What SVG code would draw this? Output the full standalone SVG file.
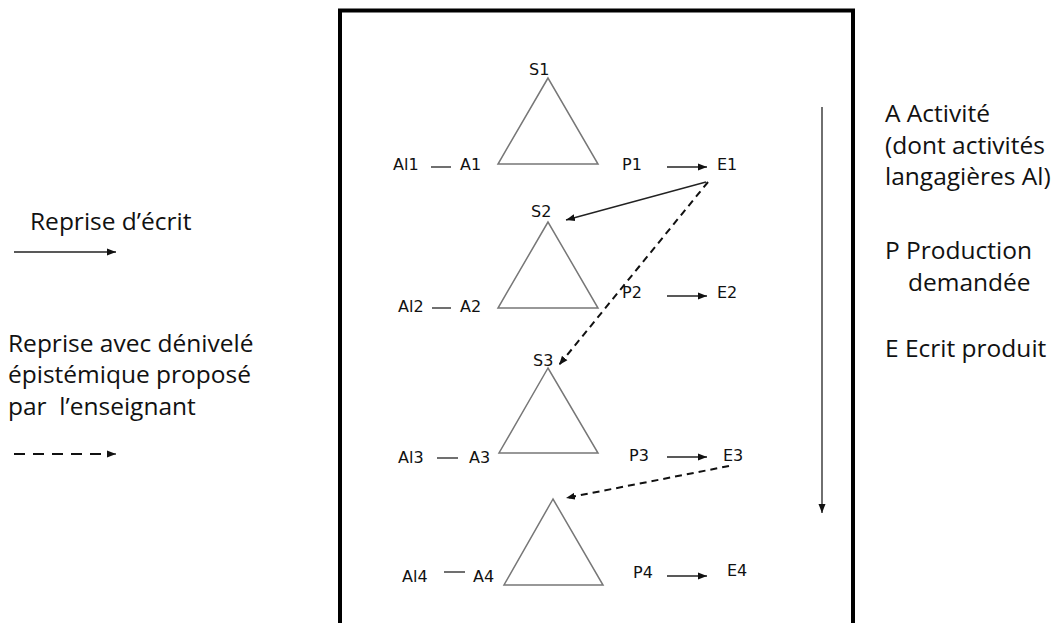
<svg xmlns="http://www.w3.org/2000/svg" width="1057" height="623" viewBox="0 0 1057 623">
<style>
.lbl{font-family:"DejaVu Sans",Verdana,sans-serif;font-size:16px;fill:#111}
.leg{font-family:"Open Sans","Noto Sans",sans-serif;font-size:24.5px;fill:#111}
.tri{fill:none;stroke:#777;stroke-width:1.5}
.ln{stroke:#222;stroke-width:1.3;fill:none}
.dash{stroke:#111;stroke-width:2;stroke-dasharray:7 5;fill:none}
.dashleg{stroke:#111;stroke-width:2;stroke-dasharray:11 8;fill:none}
</style>
<defs>
<marker id="ah" markerUnits="userSpaceOnUse" markerWidth="10" markerHeight="8" refX="9" refY="4" orient="auto">
<path d="M0,0.5 L9,4 L0,7.5 Z" fill="#111"/>
</marker>
</defs>
<rect x="340" y="10.5" width="513" height="640" fill="none" stroke="#000" stroke-width="4"/>

<g id="legend-left">
<text class="leg" x="30" y="230">Reprise d’écrit</text>
<text class="leg" x="8" y="352">Reprise avec dénivelé</text>
<text class="leg" x="8" y="383">épistémique proposé</text>
<text class="leg" x="8" y="415">par&#160; l’enseignant</text>
</g>
<g id="legend-right">
<text class="leg" x="885" y="122">A Activité</text>
<text class="leg" x="885" y="154">(dont activités</text>
<text class="leg" x="885" y="185">langagières Al)</text>
<text class="leg" x="885" y="259">P Production</text>
<text class="leg" x="908" y="291">demandée</text>
<text class="leg" x="885" y="357">E Ecrit produit</text>
</g>

<g id="level1">
<polygon class="tri" points="548,78 498,164 598,164"/>
<text class="lbl" x="529" y="75">S1</text>
<text class="lbl" x="393" y="170">Al1</text>
<text class="lbl" x="460" y="170">A1</text>
<text class="lbl" x="622" y="170">P1</text>
<text class="lbl" x="717" y="170">E1</text>
</g>
<g id="level2">
<polygon class="tri" points="548,222 498,308 598,308"/>
<text class="lbl" x="531" y="217">S2</text>
<text class="lbl" x="398" y="312">Al2</text>
<text class="lbl" x="460" y="312">A2</text>
<text class="lbl" x="622" y="298">P2</text>
<text class="lbl" x="717" y="298">E2</text>
</g>
<g id="level3">
<polygon class="tri" points="548,368 499,453 598,453"/>
<text class="lbl" x="533" y="366">S3</text>
<text class="lbl" x="398" y="463">Al3</text>
<text class="lbl" x="469" y="463">A3</text>
<text class="lbl" x="629" y="461">P3</text>
<text class="lbl" x="723" y="461">E3</text>
</g>
<g id="level4">
<polygon class="tri" points="553,499 504,585 603,585"/>
<text class="lbl" x="402" y="582">Al4</text>
<text class="lbl" x="473" y="582">A4</text>
<text class="lbl" x="633" y="578">P4</text>
<text class="lbl" x="727" y="576">E4</text>
</g>

<g id="connectors">
<line class="ln" x1="14" y1="252" x2="116" y2="252" marker-end="url(#ah)"/>
<line class="dashleg" x1="14" y1="454" x2="101" y2="454"/>
<line class="ln" x1="108" y1="454" x2="116" y2="454" marker-end="url(#ah)"/>
<line class="ln" x1="822" y1="107" x2="822" y2="513" marker-end="url(#ah)"/>

<line class="ln" x1="431" y1="167" x2="451" y2="167"/>
<line class="ln" x1="432" y1="308" x2="451" y2="308"/>
<line class="ln" x1="437" y1="458" x2="458" y2="458"/>
<line class="ln" x1="444" y1="572" x2="465" y2="572"/>

<line class="ln" x1="667" y1="167" x2="707" y2="167" marker-end="url(#ah)"/>
<line class="ln" x1="667" y1="296" x2="707" y2="296" marker-end="url(#ah)"/>
<line class="ln" x1="667" y1="457" x2="707" y2="457" marker-end="url(#ah)"/>
<line class="ln" x1="667" y1="576" x2="707" y2="576" marker-end="url(#ah)"/>

<line class="ln" x1="706" y1="182" x2="566" y2="220" marker-end="url(#ah)"/>
<line class="dash" x1="708" y1="182" x2="559" y2="365" marker-end="url(#ah)"/>
<line class="dash" x1="729" y1="466" x2="566" y2="498" marker-end="url(#ah)"/>
</g>
</svg>
